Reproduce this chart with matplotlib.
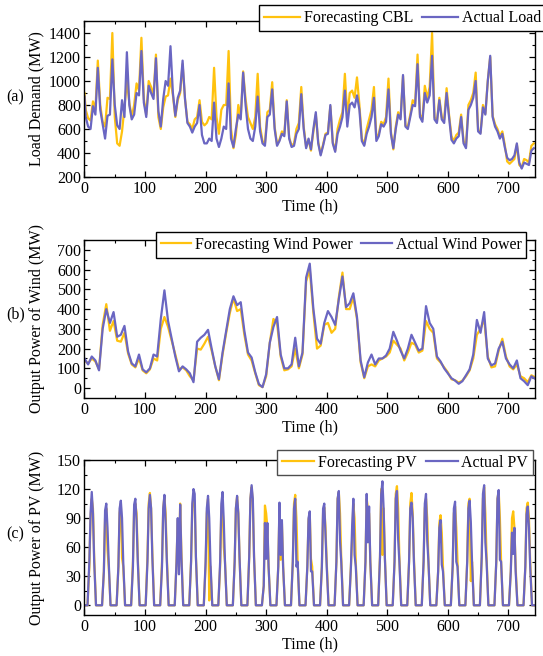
"""Month-long hourly load, wind and PV: forecast vs actual (three stacked panels)."""
import numpy as np
import matplotlib
matplotlib.use("Agg")
import matplotlib.pyplot as plt
from matplotlib.ticker import MultipleLocator

plt.rcParams["font.family"] = ["Liberation Serif", "DejaVu Serif"]
plt.rcParams["font.size"] = 11.5

C_FCST = "#FFC20E"
C_ACT = "#6A66C2"

# ---- (a) load, MW; sampled at h = 0, 2, 6, 10, ... 742 ----
LOAD_HOURS = [0] + list(range(2, 744, 4))
LOAD_ACTUAL = [
    870,
    700, 620, 600, 790, 720, 1110,
    760, 640, 520, 710, 720, 1180,
    800, 630, 600, 840, 700, 1240,
    800, 680, 720, 900, 880, 1250,
    820, 700, 960, 900, 850, 1190,
    750, 620, 850, 1000, 960, 1290,
    900, 710, 860, 920, 1170, 850,
    650, 620, 570, 620, 650, 800,
    550, 480, 480, 520, 500, 820,
    520, 450, 520, 620, 600, 980,
    520, 450, 600, 720, 680, 1070,
    800, 600, 520, 500, 620, 870,
    580, 480, 460, 700, 720, 930,
    600, 460, 500, 560, 540, 830,
    520, 450, 460, 560, 600, 890,
    600, 440, 520, 430, 600, 740,
    480, 380, 460, 550, 560, 800,
    480, 410, 560, 620, 700, 920,
    620, 800, 820, 780, 880, 760,
    500, 460, 560, 620, 700, 860,
    500, 540, 640, 620, 660, 930,
    560, 440, 600, 720, 680, 1050,
    620, 600, 700, 800, 790, 1140,
    700, 660, 900, 820, 880, 1210,
    680, 650, 840, 680, 650, 900,
    700, 510, 480, 520, 540, 700,
    480, 440, 760, 800, 860, 1000,
    580, 560, 780, 720, 1000, 1210,
    700, 620, 580, 520, 560, 450,
    360, 340, 350, 380, 480, 320,
    270, 320, 310, 300, 420, 440,
]
LOAD_FCST = [
    900,
    760, 690, 670, 830, 760, 1170,
    800, 660, 620, 860, 850, 1400,
    700, 480, 460, 580, 780, 1000,
    820, 700, 800, 980, 920, 1360,
    850, 720, 1000, 950, 880, 1220,
    700, 600, 780, 870, 880, 1020,
    880, 700, 840, 900, 1140, 850,
    660, 640, 600, 680, 700, 840,
    660, 630, 650, 700, 680, 1110,
    700, 560, 760, 800, 800, 1250,
    600, 440, 550, 800, 700, 1080,
    850, 700, 650, 600, 700, 1060,
    620, 500, 480, 740, 760, 990,
    620, 470, 510, 580, 560, 840,
    530, 460, 480, 600, 650, 950,
    620, 450, 510, 420, 580, 720,
    490, 390, 470, 560, 570, 790,
    490, 420, 600, 680, 740, 1060,
    700, 900, 920, 860, 1030, 800,
    520, 470, 600, 680, 760, 950,
    520, 560, 660, 640, 700, 1020,
    580, 430, 620, 740, 700, 1040,
    630, 620, 720, 840, 810, 1220,
    720, 680, 960, 860, 950, 1400,
    700, 660, 860, 700, 680, 940,
    720, 540, 500, 550, 570, 720,
    500, 450, 800, 840, 900, 1070,
    590, 570, 800, 730, 1000, 1200,
    710, 640, 600, 540, 580, 470,
    330, 310, 330, 350, 470, 300,
    280, 350, 340, 320, 460, 480,
]

# ---- (b) wind, MW; every 6 h ----
WIND_HOURS = list(range(0, 745, 6))
WIND_ACTUAL = [
    150, 120, 160, 140, 90, 300, 400, 330, 385, 260,
    270, 315, 185, 125, 110, 170, 95, 80, 100, 170,
    160, 350, 495, 340, 250, 160, 85, 110, 95, 75,
    30, 235, 255, 270, 295, 200, 110, 45, 180, 290,
    400, 465, 420, 435, 290, 180, 155, 80, 20, 5,
    70, 230, 310, 360, 170, 100, 100, 120, 255, 110,
    180, 560, 630, 400, 250, 225, 330, 390, 360, 320,
    450, 565, 410, 430, 480, 360, 140, 55, 130, 170,
    120, 150, 150, 165, 200, 285, 240, 190, 150, 200,
    270, 230, 190, 200, 415, 330, 300, 160, 135, 100,
    75, 50, 38, 22, 35, 65, 95, 170, 345, 280,
    385, 150, 115, 125, 200, 235, 150, 120, 100, 140,
    50, 35, 15, 60, 48,
]
WIND_FCST = [
    140, 125, 150, 135, 95, 320, 425, 290, 340, 240,
    235, 280, 175, 120, 105, 150, 90, 75, 95, 150,
    140, 300, 360, 310, 240, 170, 95, 105, 90, 60,
    40, 200, 195, 225, 260, 190, 110, 40, 170, 280,
    380, 455, 390, 400, 270, 170, 140, 75, 15, 5,
    60, 230, 350, 330, 160, 90, 95, 110, 200, 100,
    170, 540, 600, 380, 200, 215, 320, 330, 280, 300,
    460, 585, 400, 400, 460, 350, 130, 50, 110, 120,
    110, 140, 150, 160, 180, 240, 220, 200, 140, 180,
    230, 220, 180, 190, 340, 300, 280, 150, 130, 105,
    80, 45, 40, 28, 38, 60, 90, 150, 270, 300,
    350, 160, 105, 110, 190, 250, 160, 110, 95, 120,
    60, 50, 30, 65, 55,
]

# ---- (c) PV, MW; one row per day, values at hour-of-day 8, 10, 12, 14, 16
# (zero at night, i.e. at hour-of-day 5 and 19) ----
PV_DAY_HOURS = [8, 10, 12, 14, 16]
PV_ACTUAL = [
    [45, 95, 117, 95, 45], [35, 98, 105, 80, 45], [40, 100, 108, 90, 45],
    [40, 104, 110, 87, 45], [45, 100, 114, 100, 50], [40, 100, 114, 85, 45],
    [45, 90, 32, 104, 50], [45, 105, 120, 115, 50], [45, 100, 113, 90, 45],
    [45, 105, 117, 87, 45], [45, 100, 113, 95, 50], [50, 110, 124, 110, 50],
    [20, 85, 48, 85, 40], [40, 106, 52, 88, 40], [45, 100, 110, 40, 45],
    [40, 90, 97, 35, 35], [40, 100, 105, 72, 40], [45, 110, 118, 66, 45],
    [40, 82, 110, 52, 40], [45, 115, 65, 102, 45], [50, 115, 128, 100, 50],
    [45, 110, 118, 68, 45], [45, 100, 106, 90, 45], [45, 105, 115, 67, 45],
    [35, 80, 88, 42, 35], [40, 100, 107, 45, 40], [45, 100, 108, 86, 45],
    [50, 115, 124, 65, 45], [45, 110, 119, 47, 45], [35, 75, 53, 80, 35],
    [40, 94, 102, 80, 40],
]
PV_FCST = [
    [40, 90, 110, 100, 50], [35, 90, 100, 57, 40], [40, 95, 105, 49, 40],
    [45, 100, 105, 95, 50], [50, 105, 116, 100, 55], [45, 100, 112, 95, 50],
    [45, 88, 40, 105, 55], [45, 100, 112, 105, 50], [40, 95, 110, 5, 40],
    [40, 100, 108, 60, 45], [45, 100, 112, 95, 50], [50, 110, 122, 105, 50],
    [20, 103, 95, 80, 40], [40, 100, 47, 85, 40], [45, 105, 114, 90, 45],
    [40, 88, 95, 48, 40], [40, 95, 101, 80, 45], [45, 110, 117, 95, 50],
    [40, 68, 105, 90, 45], [45, 110, 100, 95, 45], [50, 120, 52, 100, 50],
    [45, 115, 123, 100, 50], [45, 105, 116, 95, 50], [45, 100, 110, 90, 45],
    [35, 85, 93, 75, 40], [40, 95, 102, 80, 45], [45, 105, 110, 25, 45],
    [50, 110, 122, 95, 50], [45, 110, 118, 90, 45], [35, 90, 97, 80, 40],
    [40, 100, 106, 90, 45],
]


def pv_series(rows):
    t, v = [0], [0]
    for d, row in enumerate(rows):
        t += [24 * d + 5] + [24 * d + h for h in PV_DAY_HOURS] + [24 * d + 19]
        v += [0] + list(row) + [0]
    return np.array(t + [744]), np.array(v + [0])


def style_axes(ax, ylim, ymajor, yminor):
    ax.set_xlim(0, 744)
    ax.set_ylim(*ylim)
    ax.xaxis.set_major_locator(MultipleLocator(100))
    ax.xaxis.set_minor_locator(MultipleLocator(50))
    ax.yaxis.set_major_locator(MultipleLocator(ymajor))
    ax.yaxis.set_minor_locator(MultipleLocator(yminor))
    ax.tick_params(which="both", direction="in", top=True, right=True)
    ax.tick_params(which="major", length=4, width=0.9, pad=2.5)
    ax.tick_params(which="minor", length=2.2, width=0.8)
    ax.tick_params(axis="x", pad=3)
    for s in ax.spines.values():
        s.set_linewidth(1.0)
    ax.set_xlabel("Time (h)", labelpad=1)


def add_legend(ax, anchor, handlelength, edge):
    leg = ax.legend(loc="upper right", bbox_to_anchor=anchor, ncol=2,
                    frameon=True, fancybox=False, framealpha=1,
                    handlelength=handlelength, handletextpad=0.25,
                    columnspacing=0.55, borderpad=0.3, borderaxespad=0)
    leg.get_frame().set_edgecolor(edge)
    leg.get_frame().set_linewidth(1.0)


fig = plt.figure(figsize=(5.43, 6.56), dpi=100)
left, width = 0.1556, 0.8297
ax_a = fig.add_axes([left, 0.7302, width, 0.2378])
ax_b = fig.add_axes([left, 0.3933, width, 0.2409])
ax_c = fig.add_axes([left, 0.0625, width, 0.2363])

lw = 1.6

# (a)
ax_a.plot(LOAD_HOURS, LOAD_FCST, color=C_FCST, lw=lw, label="Forecasting CBL")
ax_a.plot(LOAD_HOURS, LOAD_ACTUAL, color=C_ACT, lw=lw, label="Actual Load")
style_axes(ax_a, (200, 1500), 200, 100)
ax_a.set_ylabel("Load Demand (MW)")
add_legend(ax_a, (1.024, 1.10), 2.25, "black")

# (b)
ax_b.plot(WIND_HOURS, WIND_FCST, color=C_FCST, lw=lw, label="Forecasting Wind Power")
ax_b.plot(WIND_HOURS, WIND_ACTUAL, color=C_ACT, lw=lw, label="Actual Wind Power")
style_axes(ax_b, (-50, 750), 100, 50)
ax_b.set_ylabel("Output Power of Wind (MW)")
add_legend(ax_b, (0.981, 1.05), 1.9, "black")

# (c)
t_f, v_f = pv_series(PV_FCST)
t_a, v_a = pv_series(PV_ACTUAL)
ax_c.plot(t_f, v_f, color=C_FCST, lw=lw, label="Forecasting PV")
ax_c.plot(t_a, v_a, color=C_ACT, lw=lw, label="Actual PV")
style_axes(ax_c, (-10, 150), 30, 15)
ax_c.set_ylabel("Output Power of PV (MW)")
add_legend(ax_c, (0.9956, 1.065), 2.0, "0.3")

for ax in (ax_a, ax_b, ax_c):
    ax.yaxis.set_label_coords(-0.088, 0.5)

fig.text(15.6 / 543, 1 - 97 / 656, "(a)", ha="center", va="center")
fig.text(15.6 / 543, 1 - 314 / 656, "(b)", ha="center", va="center")
fig.text(15.6 / 543, 1 - 534 / 656, "(c)", ha="center", va="center")

fig.savefig("out.png", dpi=100)
